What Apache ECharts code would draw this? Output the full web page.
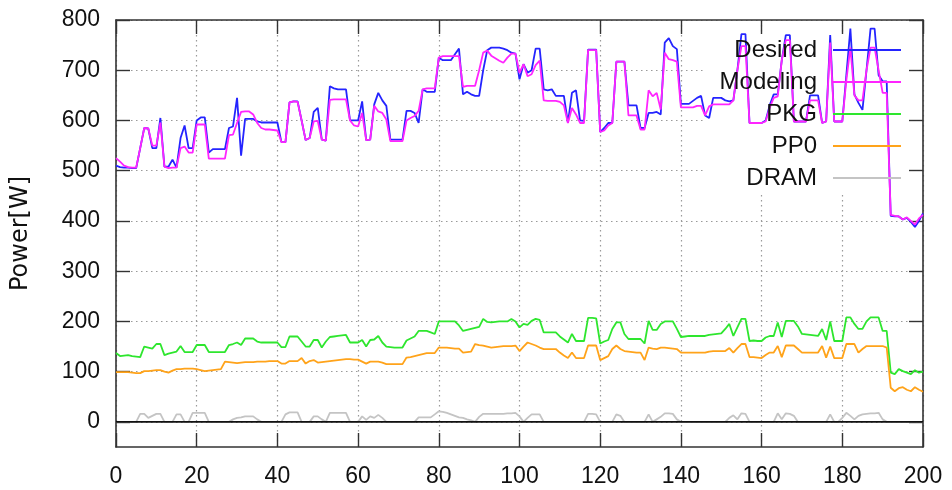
<!DOCTYPE html>
<html><head><meta charset="utf-8">
<script src="https://cdn.jsdelivr.net/npm/echarts@6/dist/echarts.min.js"></script>
<style>html,body{margin:0;padding:0;background:#fff}#c{width:952px;height:490px}</style>
</head><body><div id="c"></div>
<script>
const seriesNames = ['Desired', 'Modeling', 'PKG', 'PP0', 'DRAM'];
const xTickValues = [0, 20, 40, 60, 80, 100, 120, 140, 160, 180, 200];
const yTickValues = [0, 100, 200, 300, 400, 500, 600, 700, 800];

const desired = [
510,507,506,506,505,505,545,585,584,545,545,605,508,508,522,506,565,590,545,545,
600,606,606,536,543,543,543,543,585,588,645,530,603,603,603,598,596,596,596,596,
596,557,557,636,638,638,600,561,565,617,625,562,560,668,664,662,662,662,600,600,
600,638,561,562,632,655,640,629,562,562,562,562,619,619,615,595,662,657,657,657,
725,720,720,720,732,743,652,657,652,649,649,700,740,745,745,745,743,740,735,733,
682,712,695,700,743,743,662,660,662,649,649,649,595,655,660,600,599,741,741,741,
577,585,595,595,717,717,717,630,630,630,585,585,615,615,617,612,755,764,748,742,
633,633,633,639,645,649,610,605,645,645,645,640,638,640,700,772,772,595,595,595,
595,600,630,652,652,720,770,770,598,598,598,598,650,650,650,595,598,770,598,598,
598,690,783,652,635,621,700,783,783,690,678,678,410,409,409,403,406,398,388,400,
415];

const modeling = [
525,518,510,507,506,506,545,585,584,550,550,596,508,505,506,506,545,548,536,536,
592,592,592,524,524,524,524,524,571,572,595,617,618,618,612,595,585,582,582,581,
580,557,557,636,638,637,600,561,565,598,599,562,560,641,642,642,642,642,600,590,
588,615,561,562,629,618,615,602,559,559,559,559,600,605,609,619,662,664,664,664,
725,728,728,728,728,728,667,669,669,669,700,735,739,729,724,719,715,725,733,733,
695,712,688,692,710,719,640,639,639,639,637,630,595,625,612,595,595,740,740,740,
577,580,590,595,717,717,717,610,610,610,582,582,660,648,655,622,735,722,720,717,
626,626,626,626,629,629,610,628,632,632,632,632,632,640,700,748,748,595,595,595,
595,598,625,645,648,720,760,760,598,598,598,598,640,640,640,595,598,755,598,598,
598,680,745,650,640,640,700,745,745,700,655,655,412,410,409,403,407,400,393,405,
412];

const pkg = [
137,131,132,133,131,130,129,150,148,146,155,155,133,136,138,140,151,139,139,139,
153,153,153,139,139,139,139,139,153,155,158,153,166,166,166,160,158,158,158,158,
158,149,149,170,170,170,160,150,150,163,163,148,160,169,170,171,172,173,158,158,
158,163,150,163,164,171,158,150,149,148,148,148,162,166,170,181,181,181,178,175,
200,200,200,200,200,192,181,183,185,187,189,205,199,198,199,200,200,200,205,200,
188,195,193,201,205,203,178,178,178,178,170,164,158,175,161,161,161,207,207,206,
156,160,163,185,198,198,175,165,165,165,165,156,201,183,183,195,200,200,200,185,
169,170,171,171,171,171,171,173,174,175,176,185,195,171,188,205,205,161,162,161,
161,168,171,171,198,169,201,201,201,190,175,174,173,172,171,185,163,200,161,161,
161,208,208,195,185,185,200,208,208,208,181,181,98,95,105,101,98,95,103,98,
100];

const pp0 = [
99,99,99,99,98,97,97,101,101,102,103,103,100,98,102,105,105,106,106,106,
105,103,101,102,103,104,105,120,119,118,117,118,119,119,119,120,120,120,121,121,
121,116,116,121,121,121,127,116,121,123,118,119,120,121,122,123,124,125,125,124,
124,120,116,120,120,120,118,115,115,115,115,115,128,129,131,133,135,137,137,137,
148,148,148,147,146,146,138,139,140,155,153,152,150,148,149,150,151,151,151,152,
141,150,158,155,152,148,145,145,145,145,138,132,127,138,127,127,127,152,152,152,
123,127,131,145,152,145,141,140,139,138,138,123,148,146,145,148,148,147,146,145,
138,138,138,138,138,138,138,140,141,141,141,141,147,138,147,155,155,129,129,128,
127,133,138,138,151,129,152,152,152,145,138,138,138,138,138,151,128,150,127,127,
127,155,155,155,138,145,151,151,151,151,151,148,68,61,67,69,64,61,69,64,
60];

const dram = [
0,0,0,0,0,0,16,16,8,12,16,16,0,0,0,15,15,0,0,18,
18,18,18,0,0,0,0,0,0,5,8,9,11,11,11,5,0,0,0,0,
0,0,15,19,19,19,0,0,0,11,11,5,0,18,18,18,18,18,0,0,
0,11,4,11,8,14,8,0,0,0,0,0,0,0,0,9,9,9,9,15,
21,20,18,15,12,9,8,5,3,0,10,16,16,16,16,16,16,17,17,18,
11,0,8,15,15,15,0,0,0,0,0,0,0,0,0,0,0,16,16,15,
0,0,0,0,15,12,0,0,0,0,0,0,15,0,5,10,17,17,16,5,
0,0,0,0,0,0,0,0,0,0,0,0,8,13,5,17,16,0,0,0,
0,0,0,0,17,5,17,16,12,0,0,0,0,0,0,0,0,15,0,0,
8,18,12,5,12,15,16,17,17,18,5,0,0,0,0,0,0,0,0,0,
0];

const colors = ['#2424ff', '#ff24ff', '#2ee62e', '#ffa31a', '#c4c4c4'];
const allValues = [desired, modeling, pkg, pp0, dram];
const toPairs = arr => arr.map((v, i) => [i, v]);

const FONT = 'Liberation Sans';
const frameColor = '#333333';
const gridLine = { show: true, lineStyle: { color: '#9a9a9a', width: 1.2, type: [1.5, 3.5] } };

const series = seriesNames.map((name, k) => ({
  name, type: 'line', data: toPairs(allValues[k]),
  showSymbol: false, symbol: 'none', z: 2,
  lineStyle: { color: colors[k], width: 1.8 }, itemStyle: { color: colors[k] }
}));
series.push({
  name: 'zero', type: 'line', data: [[0, 0], [200, 0]], showSymbol: false, symbol: 'none', z: 3,
  lineStyle: { color: '#111', width: 1.6 }, silent: true
});

const option = {
  animation: false,
  backgroundColor: '#fff',
  grid: { left: 116, right: 29, top: 20, bottom: 43, containLabel: false },
  xAxis: [{
    type: 'value', min: 0, max: 200, interval: 20, position: 'bottom',
    axisLine: { show: true, onZero: false, lineStyle: { color: frameColor, width: 1.6 } },
    axisTick: { show: true, inside: true, length: 14, lineStyle: { color: frameColor, width: 1.4 } },
    axisLabel: { show: true, margin: 18, fontSize: 23, fontFamily: FONT, color: '#111',
      formatter: v => xTickValues.includes(v) ? String(v) : '' },
    splitLine: gridLine
  }, {
    type: 'value', min: 0, max: 200, interval: 20, position: 'top',
    axisLine: { show: true, onZero: false, lineStyle: { color: frameColor, width: 1.6 } },
    axisTick: { show: true, inside: true, length: 14, lineStyle: { color: frameColor, width: 1.4 } },
    axisLabel: { show: false }, splitLine: { show: false }
  }],
  yAxis: [{
    type: 'value', min: -50, max: 800, position: 'left',
    name: 'Power[W]', nameLocation: 'middle', nameRotate: 90, nameGap: 83,
    nameTextStyle: { fontSize: 24, fontFamily: 'DejaVu Sans', color: '#111' },
    axisLine: { show: true, onZero: false, lineStyle: { color: frameColor, width: 1.6 } },
    axisTick: { show: true, inside: true, length: 14, customValues: yTickValues, lineStyle: { color: frameColor, width: 1.4 } },
    axisLabel: { show: true, margin: 16, fontSize: 23, fontFamily: FONT, color: '#111', customValues: yTickValues },
    splitLine: gridLine
  }, {
    type: 'value', min: -50, max: 800, position: 'right',
    axisLine: { show: true, onZero: false, lineStyle: { color: frameColor, width: 1.6 } },
    axisTick: { show: true, inside: true, length: 14, customValues: yTickValues, lineStyle: { color: frameColor, width: 1.4 } },
    axisLabel: { show: false }, splitLine: { show: false }
  }],
  graphic: [{
    type: 'rect', z: 1, silent: true,
    shape: { x: 705, y: 35, width: 203, height: 157 },
    style: { fill: '#fff' }
  }],
  legend: {
    data: seriesNames, orient: 'vertical', right: 51, top: 34, padding: 0,
    align: 'right', icon: 'rect', itemWidth: 68, itemHeight: 2, itemGap: 0,
    textStyle: { fontSize: 24, fontFamily: FONT, color: '#111', lineHeight: 32,
      width: 130, padding: [0, 11, 0, 0] },
    selectedMode: false
  },
  series
};
const chart = echarts.init(document.getElementById('c'));
chart.setOption(option);
</script></body></html>
